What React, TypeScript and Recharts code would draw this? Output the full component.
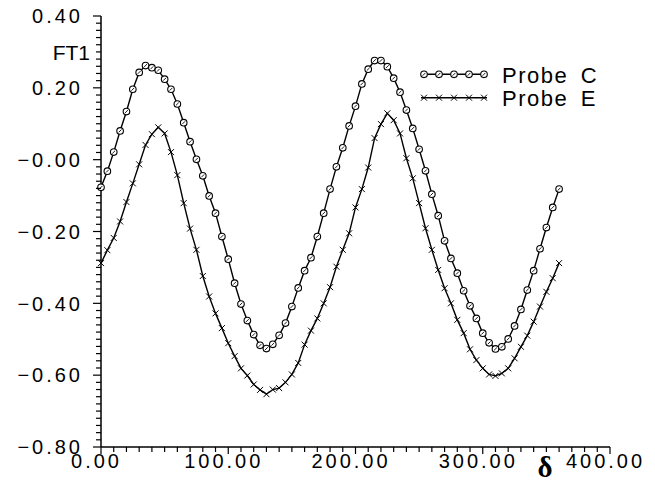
import { Legend, Line, LineChart, XAxis, YAxis } from 'recharts';

// phase angle delta, sampled every 5 degrees
const angles = [
  0, 5, 10, 15, 20, 25, 30, 35, 40, 45, 50, 55, 60, 65, 70, 75, 80, 85, 90, 95,
  100, 105, 110, 115, 120, 125, 130, 135, 140, 145, 150, 155, 160, 165, 170, 175,
  180, 185, 190, 195, 200, 205, 210, 215, 220, 225, 230, 235, 240, 245, 250, 255,
  260, 265, 270, 275, 280, 285, 290, 295, 300, 305, 310, 315, 320, 325, 330, 335,
  340, 345, 350, 355, 360,
];

const probeC = [
  -0.077, -0.032, 0.021, 0.08, 0.134, 0.196, 0.243, 0.262, 0.256, 0.249, 0.224, 0.196,
  0.155, 0.103, 0.05, 0.001, -0.045, -0.101, -0.149, -0.214, -0.277, -0.344, -0.402,
  -0.448, -0.487, -0.517, -0.526, -0.514, -0.489, -0.455, -0.409, -0.357, -0.309,
  -0.273, -0.214, -0.149, -0.082, -0.02, 0.033, 0.094, 0.149, 0.211, 0.252, 0.276,
  0.276, 0.259, 0.227, 0.188, 0.138, 0.087, 0.029, -0.031, -0.096, -0.156, -0.226,
  -0.275, -0.316, -0.365, -0.407, -0.442, -0.483, -0.51, -0.527, -0.521, -0.499,
  -0.463, -0.417, -0.363, -0.309, -0.248, -0.189, -0.133, -0.082,
];

const probeE = [
  -0.288, -0.252, -0.218, -0.172, -0.118, -0.066, -0.013, 0.041, 0.071, 0.09, 0.073,
  0.021, -0.043, -0.121, -0.192, -0.251, -0.324, -0.381, -0.428, -0.469, -0.511,
  -0.547, -0.581, -0.601, -0.626, -0.641, -0.653, -0.64, -0.636, -0.62, -0.598,
  -0.566, -0.515, -0.476, -0.442, -0.4, -0.355, -0.298, -0.251, -0.205, -0.133,
  -0.082, -0.022, 0.06, 0.099, 0.129, 0.11, 0.073, 0.004, -0.052, -0.121, -0.191,
  -0.251, -0.307, -0.358, -0.4, -0.446, -0.483, -0.528, -0.558, -0.581, -0.598,
  -0.602, -0.595, -0.581, -0.553, -0.521, -0.49, -0.451, -0.409, -0.368, -0.33, -0.288,
];

const xMajorTicks = [0, 100, 200, 300, 400];
const xTickLabels = ['0.00', '100.00', '200.00', '300.00', '400.00'];
const yMajorTicks = [-0.8, -0.6, -0.4, -0.2, 0, 0.2, 0.4];
const yTickLabels = ['−0.80', '−0.60', '−0.40', '−0.20', '−0.00', '0.20', '0.40'];

// minor ticks every 10 deg / every 0.02
const xMinorTicks = Array.from({ length: 41 }, (_, i) => i * 10);
const yMinorTicks = Array.from({ length: 61 }, (_, i) => (-80 + 2 * i) / 100);

const data = angles.map((deg, i) => ({ deg, c: probeC[i], e: probeE[i] }));

const FONT = '"Liberation Sans", Arial, sans-serif';

const XTick = (props: any) => {
  const { x, y, payload } = props;
  const i = xMajorTicks.indexOf(payload.value);
  const major = i >= 0;
  return (
    <g>
      <line x1={x} y1={y} x2={x} y2={y + (major ? 7 : 5)} stroke="#000" strokeWidth={1.2} />
      {major && (
        <text x={x - 4.5} y={y + 21} textAnchor="middle" fontFamily={FONT} fontSize={20} letterSpacing={3} fill="#000">
          {xTickLabels[i]}
        </text>
      )}
    </g>
  );
};

const YTick = (props: any) => {
  const { x, y, payload } = props;
  const i = yMajorTicks.findIndex((t) => Math.abs(t - payload.value) < 1e-6);
  const major = i >= 0;
  return (
    <g>
      <line x1={x - (major ? 8 : 5)} y1={y} x2={x} y2={y} stroke="#000" strokeWidth={1.2} />
      {major && (
        <text x={x - 18} y={y} dy="0.36em" textAnchor="end" fontFamily={FONT} fontSize={20} letterSpacing={3} fill="#000">
          {yTickLabels[i]}
        </text>
      )}
    </g>
  );
};

const circleMark = (cx: number, cy: number, key?: any) => (
  <g key={key}>
    <circle cx={cx} cy={cy} r={3.3} fill="#fff" stroke="#000" strokeWidth={1.1} />
    <line x1={cx - 1.4} y1={cy + 1.4} x2={cx + 1.4} y2={cy - 1.4} stroke="#000" strokeWidth={0.9} />
  </g>
);

const crossMark = (cx: number, cy: number, key?: any) => (
  <g key={key}>
    <line x1={cx - 3} y1={cy - 3} x2={cx + 3} y2={cy + 3} stroke="#000" strokeWidth={1} />
    <line x1={cx - 3} y1={cy + 3} x2={cx + 3} y2={cy - 3} stroke="#000" strokeWidth={1} />
  </g>
);

const CircleDot = (props: any) => {
  if (props.cx == null || props.cy == null) return null;
  return circleMark(props.cx, props.cy, props.key);
};

const CrossDot = (props: any) => {
  if (props.cx == null || props.cy == null) return null;
  return crossMark(props.cx, props.cy, props.key);
};

const legendMarks = [14, 29, 44, 59, 74];

const LegendContent = (props: any) => {
  const items = props.payload || [];
  return (
    <svg width={200} height={55}>
      {items.map((item: any, k: number) => {
        const y = 14.3 + k * 23.4;
        return (
          <g key={item.value}>
            <line x1={11} y1={y} x2={77} y2={y} stroke="#000" strokeWidth={1.4} />
            {legendMarks.map((mx) => (item.dataKey === 'c' ? circleMark(mx, y, mx) : crossMark(mx, y, mx)))}
            <text x={92} y={y + 8.4} fontFamily={FONT} fontSize={22} letterSpacing={1.5} wordSpacing={5} fill="#000">
              {item.value}
            </text>
          </g>
        );
      })}
    </svg>
  );
};

export default function App() {
  return (
    <div style={{ position: 'absolute', left: 0, top: 0, width: 655, height: 485, background: '#fff' }}>
      <LineChart width={655} height={485} data={data} margin={{ top: 16, right: 45, bottom: 0, left: 0 }}>
        <XAxis
          dataKey="deg"
          type="number"
          domain={[0, 400]}
          ticks={xMinorTicks}
          interval={0}
          height={38}
          tickSize={0}
          tickMargin={0}
          tickLine={false}
          axisLine={{ stroke: '#000', strokeWidth: 1.5 }}
          tick={<XTick />}
          label={{
            value: 'δ',
            content: (p: any) => (
              <text
                x={p.viewBox.x + 444}
                y={p.viewBox.y + 30}
                textAnchor="middle"
                fontFamily='"Liberation Serif", "DejaVu Serif", serif'
                fontWeight="bold"
                fontSize={29}
                fill="#000"
              >
                δ
              </text>
            ),
          }}
        />
        <YAxis
          type="number"
          domain={[-0.8, 0.4]}
          ticks={yMinorTicks}
          interval={0}
          width={101}
          tickSize={0}
          tickMargin={0}
          tickLine={false}
          axisLine={{ stroke: '#000', strokeWidth: 1.5 }}
          tick={<YTick />}
          label={{
            value: 'FT1',
            content: (p: any) => (
              <text x={90} y={p.viewBox.y + 44} textAnchor="end" fontFamily={FONT} fontSize={21} fill="#000">
                FT1
              </text>
            ),
          }}
        />
        <Legend
          layout="horizontal"
          verticalAlign="middle"
          align="center"
          content={<LegendContent />}
          wrapperStyle={{ left: 410, top: 60, width: 200, height: 55 }}
        />
        <Line
          type="linear"
          dataKey="c"
          name="Probe C"
          stroke="#000"
          strokeWidth={1.4}
          dot={CircleDot}
          activeDot={false}
          isAnimationActive={false}
        />
        <Line
          type="linear"
          dataKey="e"
          name="Probe E"
          stroke="#000"
          strokeWidth={1.4}
          dot={CrossDot}
          activeDot={false}
          isAnimationActive={false}
        />
      </LineChart>
    </div>
  );
}
